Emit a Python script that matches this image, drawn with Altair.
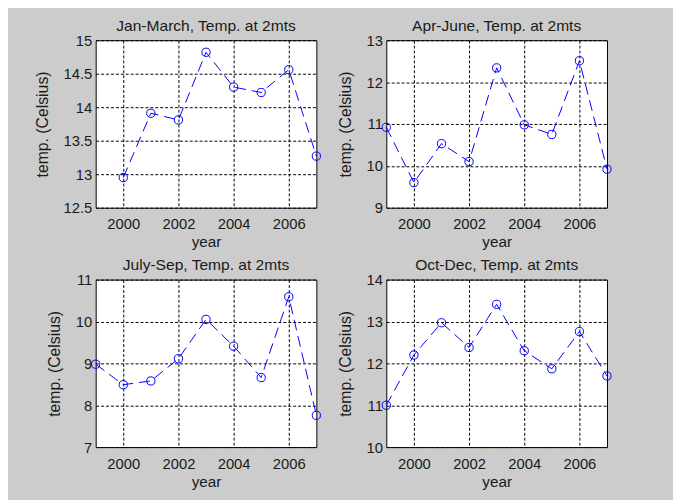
import altair as alt
import pandas as pd

years = [1999, 2000, 2001, 2002, 2003, 2004, 2005, 2006, 2007]
jan_mar = [None, 12.95, 13.91, 13.81, 14.82, 14.30, 14.22, 14.56, 13.27]
apr_jun = [10.92, 9.60, 10.53, 10.10, 12.34, 10.98, 10.75, 12.51, 9.92]
jul_sep = [8.98, 8.49, 8.58, 9.11, 10.05, 9.41, 8.66, 10.59, 7.76]
oct_dec = [11.00, 12.20, 12.97, 12.38, 13.41, 12.30, 11.87, 12.76, 11.70]

titles = ["Jan-March, Temp. at 2mts", "Apr-June, Temp. at 2mts",
          "July-Sep, Temp. at 2mts", "Oct-Dec, Temp. at 2mts"]
x_ticks = [2000, 2002, 2004, 2006]
y_ticks = [
    [12.5, 13, 13.5, 14, 14.5, 15],
    [9, 10, 11, 12, 13],
    [7, 8, 9, 10, 11],
    [10, 11, 12, 13, 14],
]

FONT = "Liberation Sans"
TXT = "#1a1a1a"
BLUE = "#0000FF"


def panel(title, values, yt):
    df = pd.DataFrame({"year": years, "temp": values}).dropna()
    x = alt.X("year:Q",
              scale=alt.Scale(domain=[1999, 2007], nice=False, zero=False),
              axis=alt.Axis(values=x_ticks, format="d", title="year"))
    y = alt.Y("temp:Q",
              scale=alt.Scale(domain=[yt[0], yt[-1]], nice=False, zero=False),
              axis=alt.Axis(values=yt, format="~g", title="temp. (Celsius)"))
    base = alt.Chart(df).encode(x=x, y=y)
    line = base.mark_line(color=BLUE, strokeDash=[11, 6], strokeWidth=1)
    pts = base.mark_point(shape="circle", filled=False, color=BLUE,
                          size=70, strokeWidth=1, opacity=1)
    return alt.layer(line, pts).properties(
        width=224, height=170,
        title=alt.TitleParams(title, font=FONT, fontSize=15.8, fontWeight="normal",
                              color=TXT, anchor="middle", baseline="alphabetic",
                              offset=-13),
    )


panels = [panel(t, v, yt) for t, v, yt in
          zip(titles, [jan_mar, apr_jun, jul_sep, oct_dec], y_ticks)]

chart = alt.concat(*panels, columns=2, spacing={"row": 73, "column": 71},
                   bounds="flush").properties(
    padding={"left": 26, "top": 5, "right": 60, "bottom": 6},
    background="#CCCCCC",
).configure_view(
    fill="white", stroke="black", strokeWidth=1
).configure_axis(
    grid=True, gridColor="black", gridDash=[3, 2], gridWidth=1, gridOpacity=1,
    domain=False, ticks=False,
    labelFont=FONT, labelFontSize=15, labelColor=TXT,
    titleFont=FONT, titleColor=TXT, titleFontWeight="normal",
).configure_axisX(
    titleFontSize=15.5, titlePadding=3, labelPadding=9.5,
).configure_axisY(
    titleFontSize=16, titlePadding=13, labelPadding=4,
)

chart.save("out.html", embed_options={"renderer": "svg", "actions": False})
